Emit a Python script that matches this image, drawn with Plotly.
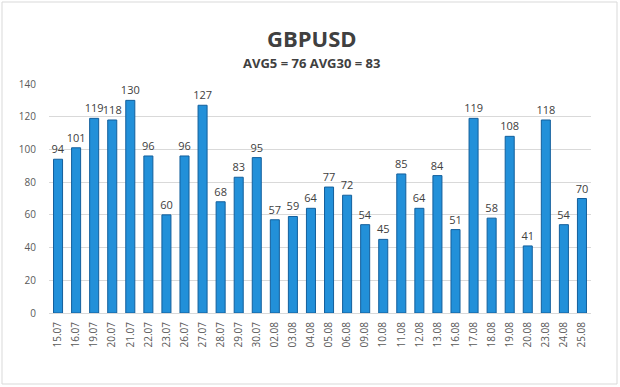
import plotly.graph_objects as go

dates = ["15.07","16.07","19.07","20.07","21.07","22.07","23.07","26.07","27.07","28.07",
         "29.07","30.07","02.08","03.08","04.08","05.08","06.08","09.08","10.08","11.08",
         "12.08","13.08","16.08","17.08","18.08","19.08","20.08","23.08","24.08","25.08"]
values = [94,101,119,118,130,96,60,96,127,68,83,95,57,59,64,77,72,54,45,85,64,84,51,119,58,108,41,118,54,70]
y_ticks = [0,20,40,60,80,100,120,140]

W, H = 620, 387
ml, mr, mt, mb = 49, 29, 84, 74
pw, ph = W - ml - mr, H - mt - mb

fig = go.Figure(go.Bar(
    x=dates, y=values, text=[str(v) for v in values], textposition="outside",
    textfont=dict(size=11, color="#404040", family="Open Sans, Arial"),
    constraintext="none",
    marker=dict(color="#2290d9", line=dict(color="#135f9c", width=1)),
    width=0.5, cliponaxis=False,
))

def px_x(p):
    return (p - ml) / pw

def px_y(p):
    return (H - mb - p) / ph

fig.update_layout(
    width=W, height=H,
    margin=dict(l=ml, r=mr, t=mt, b=mb),
    paper_bgcolor="white", plot_bgcolor="white",
    showlegend=False,
    font=dict(family="Open Sans, Arial", color="#595959"),
    xaxis=dict(type="category", tickangle=-90, tickfont=dict(size=10, color="#595959"),
               showgrid=False, showline=True, linecolor="#d9d9d9", ticks="", automargin=False,
               ticklabelstandoff=4),
    yaxis=dict(range=[0, 140], tickvals=y_ticks, tickfont=dict(size=10, color="#595959"),
               showgrid=True, gridcolor="#d9d9d9", gridwidth=1, zeroline=False, ticks="",
               ticklabelstandoff=12, automargin=False),
    annotations=[
        dict(text="<b>GBPUSD</b>", x=0.485, y=px_y(38), xref="paper", yref="paper",
             showarrow=False, font=dict(size=22, color="#404040", family="Open Sans, Arial"),
             xanchor="center", yanchor="middle"),
        dict(text="<b>AVG5 = 76 AVG30 = 83</b>", x=0.485, y=px_y(63), xref="paper", yref="paper",
             showarrow=False, font=dict(size=13, color="#404040", family="Open Sans, Arial"),
             xanchor="center", yanchor="middle"),
    ],
    shapes=[dict(type="rect", xref="paper", yref="paper",
                 x0=px_x(2), x1=px_x(617), y0=px_y(384), y1=px_y(2),
                 line=dict(color="#d9d9d9", width=1), fillcolor="rgba(0,0,0,0)", layer="below")],
    bargap=0.5,
)

fig.write_html("out.html", config={"displayModeBar": False})
with open("out.html", "r", encoding="utf-8") as f:
    html = f.read()
html = html.replace("<head>", "<head><style>html,body{margin:0;padding:0;}</style>", 1)
with open("out.html", "w", encoding="utf-8") as f:
    f.write(html)
